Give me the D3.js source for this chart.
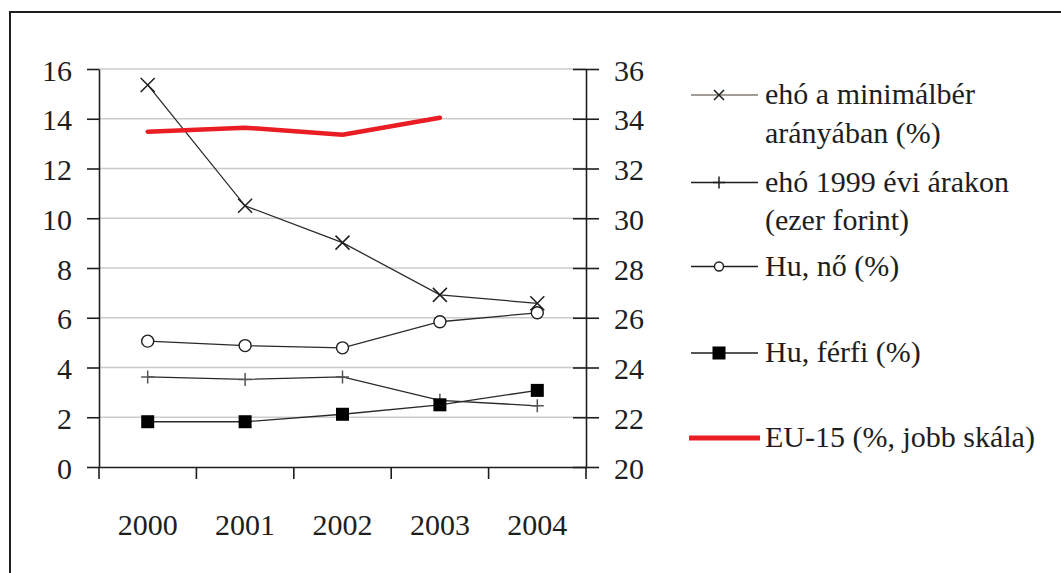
<!DOCTYPE html>
<html><head><meta charset="utf-8">
<script src="https://cdn.jsdelivr.net/npm/d3@7"></script>
<style>html,body{margin:0;padding:0;background:#fff;overflow:hidden}svg{display:block}
svg text, svg tspan { font-family: "Liberation Serif" !important; }</style>
</head><body>
<svg id="chart" width="1061" height="573" font-family="Liberation Serif"></svg>
<script>
const years = ["2000","2001","2002","2003","2004"];
const ehoMinimalber = [15.36, 10.5, 9.02, 6.92, 6.58];
const eho1999 = [3.62, 3.52, 3.62, 2.68, 2.46];
const huNo = [5.06, 4.88, 4.79, 5.84, 6.2];
const huFerfi = [1.82, 1.82, 2.12, 2.5, 3.08];
const eu15 = [33.48, 33.64, 33.36, 34.04, null];
const leftTicks = [0,2,4,6,8,10,12,14,16];
const rightTicks = [20,22,24,26,28,30,32,34,36];
const legendLabels = [
  ["ehó a minimálbér","arányában (%)"],
  ["ehó 1999 évi árakon","(ezer forint)"],
  ["Hu, nő (%)"],
  ["Hu, férfi (%)"],
  ["EU-15 (%, jobb skála)"]
];

const svg = d3.select("#chart");
const ink = "#1e1e1e";
const FONT = "Liberation Serif";

svg.append("rect").attr("x",10).attr("y",12).attr("width",1200).attr("height",800)
  .attr("fill","none").attr("stroke",ink).attr("stroke-width",2);

const L = 99, R = 586, T = 69, B = 467;
const x = d3.scaleBand().domain(years).range([L,R]);
const cx = d => x(d) + x.bandwidth()/2;
const yL = d3.scaleLinear().domain([0,16]).range([B,T]);
const yR = d3.scaleLinear().domain([20,36]).range([B,T]);

svg.append("g").selectAll("line").data(leftTicks.filter(d=>d>0)).join("line")
  .attr("x1",L).attr("x2",R).attr("y1",d=>yL(d)).attr("y2",d=>yL(d))
  .attr("stroke","#cfcac6").attr("stroke-width",1.5);

function styleText(sel){
  sel.attr("font-family",FONT).attr("font-size",30).attr("fill",ink);
}

const gL = svg.append("g").attr("transform",`translate(${L},0)`)
  .call(d3.axisLeft(yL).tickValues(leftTicks).tickSizeInner(12).tickSizeOuter(0).tickPadding(15).tickFormat(d3.format("d")));
gL.attr("font-family",FONT);
gL.select(".domain").attr("stroke",ink).attr("stroke-width",1.6);
gL.selectAll(".tick line").attr("stroke",ink).attr("stroke-width",1.6);
styleText(gL.selectAll(".tick text"));
gL.selectAll(".tick text").attr("dy",null).attr("y",11).attr("x",-27);

const gR = svg.append("g").attr("transform",`translate(${R},0)`)
  .call(d3.axisRight(yR).tickValues(rightTicks).tickSizeInner(13).tickSizeOuter(0).tickPadding(15).tickFormat(d3.format("d")));
gR.attr("font-family",FONT);
gR.select(".domain").attr("stroke",ink).attr("stroke-width",1.6);
gR.selectAll(".tick line").attr("stroke",ink).attr("stroke-width",1.6).attr("x1",-13);
styleText(gR.selectAll(".tick text"));
gR.selectAll(".tick text").attr("dy",null).attr("y",11).attr("x",28);

const gX = svg.append("g").attr("transform",`translate(0,${B})`)
  .call(d3.axisBottom(x).tickSize(0).tickSizeOuter(0));
gX.attr("font-family",FONT);
gX.select(".domain").attr("stroke",ink).attr("stroke-width",1.6);
styleText(gX.selectAll(".tick text"));
gX.selectAll(".tick text").attr("dy",null).attr("y",68);
const bounds = years.map(d=>x(d)).concat([x(years[years.length-1])+x.bandwidth()]);
gX.selectAll("line.bt").data(bounds).join("line").attr("class","bt")
  .attr("x1",d=>d).attr("x2",d=>d).attr("y1",0).attr("y2",12)
  .attr("stroke",ink).attr("stroke-width",1.6);

const lineL = d3.line().defined(d=>d!=null).x((d,i)=>cx(years[i])).y(d=>yL(d));
const lineR = d3.line().defined(d=>d!=null).x((d,i)=>cx(years[i])).y(d=>yR(d));

const plot = svg.append("g");
function drawSeries(vals){
  plot.append("path").datum(vals).attr("d",lineL).attr("fill","none")
    .attr("stroke","#2a2a2a").attr("stroke-width",1.3);
}
drawSeries(eho1999);
drawSeries(huFerfi);
drawSeries(huNo);
drawSeries(ehoMinimalber);

plot.append("path").datum(eu15).attr("d",lineR).attr("fill","none")
  .attr("stroke","#ea1c24").attr("stroke-width",4.5).attr("stroke-linecap","round").attr("stroke-linejoin","round");

function cross(g, px, py, s, color){
  g.append("path").attr("d",`M${px-s},${py-s}L${px+s},${py+s}M${px-s},${py+s}L${px+s},${py-s}`)
    .attr("stroke",color).attr("stroke-width",1.5).attr("fill","none");
}
function plus(g, px, py, s, color){
  g.append("path").attr("d",`M${px-s},${py}L${px+s},${py}M${px},${py-s}L${px},${py+s}`)
    .attr("stroke",color).attr("stroke-width",1.5).attr("fill","none");
}
function circ(g, px, py, r){
  g.append("circle").attr("cx",px).attr("cy",py).attr("r",r)
    .attr("fill","#fff").attr("stroke",ink).attr("stroke-width",1.4);
}
function sq(g, px, py, s){
  g.append("rect").attr("x",px-s).attr("y",py-s).attr("width",2*s).attr("height",2*s).attr("fill","#000");
}
eho1999.forEach((v,i)=>plus(plot,cx(years[i]),yL(v),6.5,"#555"));
huFerfi.forEach((v,i)=>sq(plot,cx(years[i]),yL(v),6.5));
huNo.forEach((v,i)=>circ(plot,cx(years[i]),yL(v),6));
ehoMinimalber.forEach((v,i)=>cross(plot,cx(years[i]),yL(v),7,ink));

const lg = svg.append("g").attr("font-family",FONT);
const lineYs = [95, 182.5, 266.5, 353, 438];
const lx1 = 691, lx2 = 758, lmx = 725, tx = 765;
lineYs.forEach((ly,i)=>{
  const isRed = i===4;
  lg.append("line").attr("x1",isRed?689:lx1).attr("x2",isRed?760:lx2).attr("y1",ly).attr("y2",ly)
    .attr("stroke", isRed ? "#ea1c24" : (i===0 ? "#a39d98" : ink))
    .attr("stroke-width", isRed ? 5 : (i===0 ? 2 : 1.4));
  if(i===0) cross(lg,lmx-6,ly,5,ink);
  if(i===1) plus(lg,lmx-6,ly,6,ink);
  if(i===2) circ(lg,lmx-6,ly,4.5);
  if(i===3) sq(lg,lmx-6,ly,6.5);
  const t = lg.append("text").attr("font-family",FONT).attr("font-size",30).attr("fill",ink)
    .attr("x",tx).attr("y",ly+9);
  legendLabels[i].forEach((s,j)=>{
    t.append("tspan").attr("x",tx).attr("dy", j===0?0:38.5).text(s);
  });
});
</script>
</body></html>
